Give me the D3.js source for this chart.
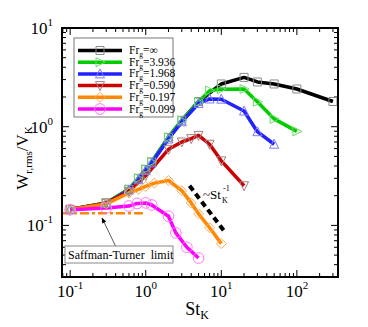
<!DOCTYPE html>
<html lang="en">
<head>
<meta charset="UTF-8">
<script src="https://cdnjs.cloudflare.com/ajax/libs/d3/7.8.5/d3.min.js"></script>
<style>
  body { margin: 0; background: #fff; }
  text { font-family: "Liberation Serif", "DejaVu Serif", serif; fill: #000; }
</style>
</head>
<body>
<div id="chart"></div>
<script>
// St_K values and w_r,rms / v_K values
var stInf  = [0.1, 0.3, 0.6, 0.8, 1.0, 1.2, 2, 3, 5, 10, 20, 30, 50, 100, 300];
var wInf   = [0.145, 0.169, 0.232, 0.30, 0.37, 0.44, 0.78, 1.16, 1.80, 2.71, 3.16, 2.84, 2.71, 2.41, 1.80];
var st3936 = [0.1, 0.3, 0.6, 0.8, 1.0, 1.2, 2, 3, 5, 7, 10, 20, 30, 50, 100];
var w3936  = [0.145, 0.169, 0.232, 0.30, 0.37, 0.44, 0.78, 1.16, 1.78, 2.32, 2.40, 2.41, 1.79, 1.20, 0.897];
var st1968 = [0.1, 0.3, 0.6, 0.8, 1.0, 1.2, 2, 3, 5, 7, 10, 20, 30, 50];
var w1968  = [0.145, 0.167, 0.228, 0.29, 0.36, 0.43, 0.75, 1.12, 1.72, 1.91, 1.90, 1.44, 0.89, 0.664];
var st0590 = [0.1, 0.3, 0.6, 1.0, 2, 3, 4, 5, 7, 10, 20];
var w0590  = [0.145, 0.168, 0.22, 0.32, 0.59, 0.70, 0.757, 0.817, 0.664, 0.451, 0.252];
var st0197 = [0.1, 0.3, 0.6, 0.8, 1.0, 1.3, 2, 3, 4, 5, 7, 10];
var w0197  = [0.145, 0.165, 0.213, 0.232, 0.248, 0.268, 0.285, 0.225, 0.169, 0.131, 0.0946, 0.0653];
var st0099 = [0.1, 0.3, 0.6, 0.77, 1.0, 1.2, 2, 2.5, 3.5, 5];
var w0099  = [0.144, 0.150, 0.157, 0.167, 0.169, 0.161, 0.124, 0.084, 0.060, 0.0467];

var seriesNames = ["\u221e", "3.936", "1.968", "0.590", "0.197", "0.099"];

// Saffman-Turner limit and the ~St^-1 guide
var stLimitX = [0.078, 0.95];
var stLimitY = [0.1324, 0.1324];
var slopeX = [3.8, 11];
var slopeY = [0.252, 0.087];

var xTicksMajor = [0.1, 1, 10, 100];
var xTickExp = ["-1", "0", "1", "2"];
var yTicksMajor = [0.1, 1, 10];
var yTickExp = ["-1", "0", "1"];

var W = 368, H = 327;
var L = 62, R = 338, T = 28, B = 277;

var svg = d3.select("#chart").append("svg")
    .attr("width", W).attr("height", H);

var x = d3.scaleLog().domain([0.078, 350]).range([L, R]);
var y = d3.scaleLog().domain([0.03, 10]).range([B, T]);

function zip(a, b) { return a.map(function(v, i) { return [v, b[i]]; }); }

var series = [
    {pts: zip(stInf, wInf),   color: "#000000", mk: "#8a8a8a", sym: "square"},
    {pts: zip(st3936, w3936), color: "#00cc00", mk: "#66dd66", sym: "right"},
    {pts: zip(st1968, w1968), color: "#2222ff", mk: "#7a7aff", sym: "up"},
    {pts: zip(st0590, w0590), color: "#cc0000", mk: "#a08080", sym: "down"},
    {pts: zip(st0197, w0197), color: "#ff8800", mk: "#ffaa55", sym: "diamond"},
    {pts: zip(st0099, w0099), color: "#ff00ff", mk: "#ff77ff", sym: "circle"}
];

function markerPath(sym) {
    if (sym == "square") return "M-4,-4H4V4H-4Z";
    if (sym == "right") return "M-4,-4.5L5,0L-4,4.5Z";
    if (sym == "up") return "M0,-5L4.5,4L-4.5,4Z";
    if (sym == "down") return "M0,5L4.5,-4L-4.5,-4Z";
    if (sym == "diamond") return "M0,-5L5,0L0,5L-5,0Z";
    return d3.symbol().type(d3.symbolCircle).size(90)();
}

// ticks on all four sides, pointing inward
var ticks = svg.append("g").attr("stroke", "#000").attr("stroke-width", 1);
var xMinor = [], yMinor = [];
[0.01, 0.1, 1, 10, 100].forEach(function(p) {
    for (var k = 2; k <= 9; k++) {
        var v = p * k;
        if (v > 0.078 && v < 350) xMinor.push(v);
        if (v > 0.03 && v < 10) yMinor.push(v);
    }
});
xTicksMajor.forEach(function(v) {
    ticks.append("line").attr("x1", x(v)).attr("x2", x(v)).attr("y1", B).attr("y2", B - 7);
    ticks.append("line").attr("x1", x(v)).attr("x2", x(v)).attr("y1", T).attr("y2", T + 7);
});
xMinor.forEach(function(v) {
    ticks.append("line").attr("x1", x(v)).attr("x2", x(v)).attr("y1", B).attr("y2", B - 4);
    ticks.append("line").attr("x1", x(v)).attr("x2", x(v)).attr("y1", T).attr("y2", T + 4);
});
yTicksMajor.forEach(function(v) {
    ticks.append("line").attr("y1", y(v)).attr("y2", y(v)).attr("x1", L).attr("x2", L + 7);
    ticks.append("line").attr("y1", y(v)).attr("y2", y(v)).attr("x1", R).attr("x2", R - 7);
});
yMinor.forEach(function(v) {
    ticks.append("line").attr("y1", y(v)).attr("y2", y(v)).attr("x1", L).attr("x2", L + 4);
    ticks.append("line").attr("y1", y(v)).attr("y2", y(v)).attr("x1", R).attr("x2", R - 4);
});

// tick labels
xTicksMajor.forEach(function(v, i) {
    var t = svg.append("text").attr("x", x(v)).attr("y", 297)
        .attr("text-anchor", "middle").style("font-size", "17px");
    t.append("tspan").text("10");
    t.append("tspan").attr("dy", -8).style("font-size", "11px").text(xTickExp[i]);
});
yTicksMajor.forEach(function(v, i) {
    var t = svg.append("text").attr("x", 53).attr("y", y(v) + 6)
        .attr("text-anchor", "end").style("font-size", "17px");
    t.append("tspan").text("10");
    t.append("tspan").attr("dy", -8).style("font-size", "11px").text(yTickExp[i]);
});

var line = d3.line().x(function(d) { return x(d[0]); }).y(function(d) { return y(d[1]); });

// Saffman-Turner limit line
svg.append("path").datum(zip(stLimitX, stLimitY)).attr("d", line)
    .attr("fill", "none").attr("stroke", "#ff8800").attr("stroke-width", 2.5)
    .attr("stroke-dasharray", "9,3,3,3");

// data series
series.forEach(function(s) {
    svg.append("path").datum(s.pts).attr("d", line)
        .attr("fill", "none").attr("stroke", s.color).attr("stroke-width", 3.5)
        .attr("stroke-linejoin", "round");
});
series.forEach(function(s) {
    svg.append("g").selectAll("path").data(s.pts).enter().append("path")
        .attr("d", markerPath(s.sym))
        .attr("transform", function(d) { return "translate(" + x(d[0]) + "," + y(d[1]) + ")"; })
        .attr("fill", "none").attr("stroke", s.mk).attr("stroke-width", 1);
});

// ~St^-1 guide
svg.append("path").datum(zip(slopeX, slopeY)).attr("d", line)
    .attr("fill", "none").attr("stroke", "#000").attr("stroke-width", 4)
    .attr("stroke-dasharray", "6,4");
svg.append("text").attr("x", 203).attr("y", 199).style("font-size", "13px").text("~St");
svg.append("text").attr("x", 222).attr("y", 203).style("font-size", "8px").text("K");
svg.append("text").attr("x", 223).attr("y", 191).style("font-size", "8px").text("-1");

// Saffman-Turner label with arrow
svg.append("defs").append("marker").attr("id", "ah")
    .attr("viewBox", "0 0 10 10").attr("refX", 9).attr("refY", 5)
    .attr("markerWidth", 9).attr("markerHeight", 7).attr("orient", "auto")
    .append("path").attr("d", "M0,1L10,5L0,9Z").attr("fill", "#000");
svg.append("line").attr("x1", 116).attr("y1", 247).attr("x2", 102).attr("y2", 218)
    .attr("stroke", "#333").attr("stroke-width", 0.8).attr("marker-end", "url(#ah)");
svg.append("rect").attr("x", 65).attr("y", 246).attr("width", 108).attr("height", 17)
    .attr("fill", "#fff").attr("stroke", "#888").attr("stroke-width", 1);
svg.append("text").attr("x", 68).attr("y", 259).style("font-size", "12px")
    .style("white-space", "pre").text("Saffman-Turner  limit");

// legend
var lg = svg.append("g");
lg.append("rect").attr("x", 74).attr("y", 38).attr("width", 99).attr("height", 79)
    .attr("fill", "#fff").attr("stroke", "#777").attr("stroke-width", 1);
series.forEach(function(s, i) {
    var ly = 50.5 + i * 11.7;
    lg.append("line").attr("x1", 78).attr("x2", 122).attr("y1", ly).attr("y2", ly)
        .attr("stroke", s.color).attr("stroke-width", 3.5);
    lg.append("path").attr("d", markerPath(s.sym))
        .attr("transform", "translate(100," + ly + ")")
        .attr("fill", "none").attr("stroke", s.mk).attr("stroke-width", 1);
    var t = lg.append("text").attr("x", 129).attr("y", ly + 3.5).style("font-size", "11.5px");
    t.append("tspan").text("Fr");
    t.append("tspan").attr("dy", 3).style("font-size", "7.5px").text("g");
    t.append("tspan").attr("dy", -3).text("=" + seriesNames[i]);
});

// frame
svg.append("rect").attr("x", L).attr("y", T).attr("width", R - L).attr("height", B - T)
    .attr("fill", "none").attr("stroke", "#000").attr("stroke-width", 2);

// axis titles
var xt = svg.append("text").attr("x", 197).attr("y", 315)
    .attr("text-anchor", "middle").style("font-size", "18px");
xt.append("tspan").text("St");
xt.append("tspan").attr("dy", 4).style("font-size", "12px").text("K");

var yt = svg.append("text").attr("transform", "translate(28,158) rotate(-90)")
    .attr("text-anchor", "middle").style("font-size", "17px");
yt.append("tspan").text("W");
yt.append("tspan").attr("dy", 4).style("font-size", "11px").text("r,rms");
yt.append("tspan").attr("dy", -4).text("/V");
yt.append("tspan").attr("dy", 4).style("font-size", "11px").text("K");
</script>
</body>
</html>
